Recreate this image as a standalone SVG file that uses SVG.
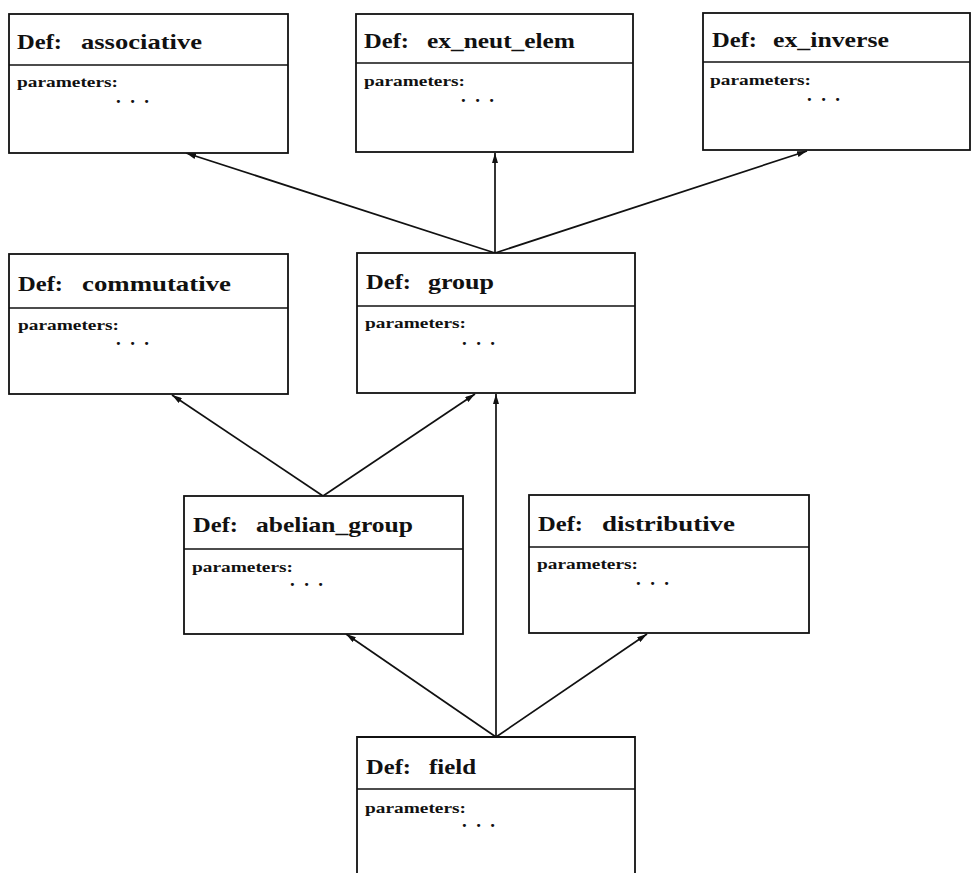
<svg xmlns="http://www.w3.org/2000/svg" width="972" height="873" viewBox="0 0 972 873">
<style>
.box{fill:#fff;stroke:#111;stroke-width:1.8}
.div{stroke:#111;stroke-width:1.6}
.t{font-family:"Liberation Serif","DejaVu Serif",serif;font-weight:bold;font-size:21px;fill:#111}
.p{font-family:"Liberation Serif","DejaVu Serif",serif;font-weight:bold;font-size:15px;fill:#111}
.d{font-family:"Liberation Serif","DejaVu Serif",serif;font-weight:bold;font-size:19px;fill:#111}
.c{stroke:#111;stroke-width:1.7;fill:none;marker-end:url(#ah)}
</style>
<defs>
<marker id="ah" viewBox="0 0 10 6" refX="10" refY="3" markerWidth="10" markerHeight="6" markerUnits="userSpaceOnUse" orient="auto">
<path d="M0,0 L10,3 L0,6 z" fill="#111"/>
</marker>
</defs>
<rect width="972" height="873" fill="#fff"/>
<g id="connectors">
<line class="c" x1="495" y1="253" x2="186" y2="153"/>
<line class="c" x1="495" y1="253" x2="495" y2="153"/>
<line class="c" x1="495" y1="253" x2="807" y2="151"/>
<line class="c" x1="323" y1="496" x2="172" y2="395"/>
<line class="c" x1="323" y1="496" x2="475" y2="394"/>
<line class="c" x1="496" y1="737" x2="346" y2="634"/>
<line class="c" x1="496" y1="737" x2="496" y2="394"/>
<line class="c" x1="496" y1="737" x2="647" y2="634"/>
</g>
<g id="associative">
<rect class="box" x="9" y="14" width="279" height="139"/>
<line class="div" x1="9" y1="65" x2="288" y2="65"/>
<text class="t" x="17" y="49" textLength="45" lengthAdjust="spacingAndGlyphs">Def:</text>
<text class="t" x="81" y="49" textLength="121" lengthAdjust="spacingAndGlyphs">associative</text>
<text class="p" x="17" y="87" textLength="101" lengthAdjust="spacingAndGlyphs">parameters:</text>
<text class="d" x="116" y="103" textLength="33" lengthAdjust="spacing">. . .</text>
</g>
<g id="ex_neut_elem">
<rect class="box" x="356" y="14" width="277" height="138"/>
<line class="div" x1="356" y1="63" x2="633" y2="63"/>
<text class="t" x="364" y="48" textLength="45" lengthAdjust="spacingAndGlyphs">Def:</text>
<text class="t" x="427" y="48" textLength="148" lengthAdjust="spacingAndGlyphs">ex_neut_elem</text>
<text class="p" x="364" y="86" textLength="101" lengthAdjust="spacingAndGlyphs">parameters:</text>
<text class="d" x="461" y="102" textLength="33" lengthAdjust="spacing">. . .</text>
</g>
<g id="ex_inverse">
<rect class="box" x="703" y="13" width="267" height="137"/>
<line class="div" x1="703" y1="62" x2="970" y2="62"/>
<text class="t" x="712" y="47" textLength="45" lengthAdjust="spacingAndGlyphs">Def:</text>
<text class="t" x="773" y="47" textLength="116" lengthAdjust="spacingAndGlyphs">ex_inverse</text>
<text class="p" x="710" y="85" textLength="101" lengthAdjust="spacingAndGlyphs">parameters:</text>
<text class="d" x="807" y="101" textLength="33" lengthAdjust="spacing">. . .</text>
</g>
<g id="commutative">
<rect class="box" x="9" y="254" width="279" height="140"/>
<line class="div" x1="9" y1="308" x2="288" y2="308"/>
<text class="t" x="18" y="291" textLength="45" lengthAdjust="spacingAndGlyphs">Def:</text>
<text class="t" x="82" y="291" textLength="149" lengthAdjust="spacingAndGlyphs">commutative</text>
<text class="p" x="18" y="330" textLength="101" lengthAdjust="spacingAndGlyphs">parameters:</text>
<text class="d" x="116" y="345" textLength="33" lengthAdjust="spacing">. . .</text>
</g>
<g id="group">
<rect class="box" x="357" y="253" width="278" height="140"/>
<line class="div" x1="357" y1="306" x2="635" y2="306"/>
<text class="t" x="366" y="289" textLength="45" lengthAdjust="spacingAndGlyphs">Def:</text>
<text class="t" x="428" y="289" textLength="66" lengthAdjust="spacingAndGlyphs">group</text>
<text class="p" x="365" y="328" textLength="101" lengthAdjust="spacingAndGlyphs">parameters:</text>
<text class="d" x="462" y="345" textLength="33" lengthAdjust="spacing">. . .</text>
</g>
<g id="abelian_group">
<rect class="box" x="184" y="496" width="279" height="138"/>
<line class="div" x1="184" y1="549" x2="463" y2="549"/>
<text class="t" x="193" y="532" textLength="45" lengthAdjust="spacingAndGlyphs">Def:</text>
<text class="t" x="256" y="532" textLength="157" lengthAdjust="spacingAndGlyphs">abelian_group</text>
<text class="p" x="192" y="572" textLength="101" lengthAdjust="spacingAndGlyphs">parameters:</text>
<text class="d" x="290" y="586" textLength="33" lengthAdjust="spacing">. . .</text>
</g>
<g id="distributive">
<rect class="box" x="529" y="495" width="280" height="138"/>
<line class="div" x1="529" y1="547" x2="809" y2="547"/>
<text class="t" x="538" y="531" textLength="45" lengthAdjust="spacingAndGlyphs">Def:</text>
<text class="t" x="602" y="531" textLength="133" lengthAdjust="spacingAndGlyphs">distributive</text>
<text class="p" x="537" y="569" textLength="101" lengthAdjust="spacingAndGlyphs">parameters:</text>
<text class="d" x="636" y="585" textLength="33" lengthAdjust="spacing">. . .</text>
</g>
<g id="field">
<path class="box" d="M357,880 L357,737 L635,737 L635,880"/>
<line class="div" x1="357" y1="789" x2="635" y2="789"/>
<text class="t" x="366" y="774" textLength="45" lengthAdjust="spacingAndGlyphs">Def:</text>
<text class="t" x="429" y="774" textLength="47" lengthAdjust="spacingAndGlyphs">field</text>
<text class="p" x="365" y="813" textLength="101" lengthAdjust="spacingAndGlyphs">parameters:</text>
<text class="d" x="462" y="827" textLength="33" lengthAdjust="spacing">. . .</text>
</g>
</svg>
